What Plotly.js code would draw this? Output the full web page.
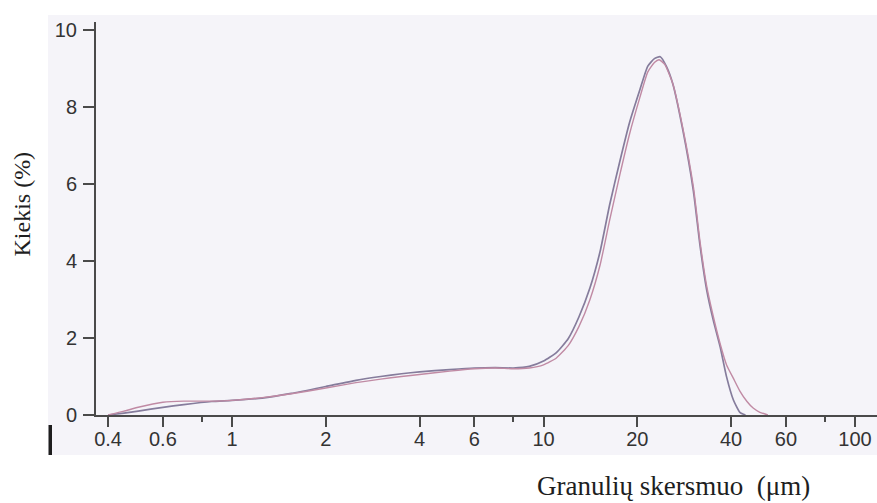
<!DOCTYPE html>
<html>
<head>
<meta charset="utf-8">
<script src="https://cdn.plot.ly/plotly-3.0.1.min.js"></script>
<style>html,body{margin:0;padding:0;background:#fff;}#chart{width:877px;height:503px;}</style>
</head>
<body>
<div id="chart"></div>
<script>
// Particle size (µm) and amount (%) — two measurement curves
const sizeA = [0.4, 0.45, 0.5, 0.6, 0.7, 0.86, 1.0, 1.25, 1.55, 2.0, 2.5, 3.0, 3.5, 4.0, 5.0, 6.0, 7.0, 8.0, 9.0, 10.0, 11.0, 12.0, 13.0, 14.1, 15.2, 16.3, 17.6, 18.9, 20.4, 21.6, 22.7, 23.7, 24.8, 26.0, 28.0, 30.3, 31.8, 33.4, 35.1, 36.9, 38.7, 40.7, 42.7, 44.5];
const valA  = [0, 0.05, 0.1, 0.2, 0.27, 0.35, 0.38, 0.44, 0.56, 0.74, 0.9, 1.0, 1.07, 1.12, 1.18, 1.22, 1.23, 1.22, 1.26, 1.4, 1.62, 1.98, 2.55, 3.3, 4.25, 5.45, 6.6, 7.6, 8.45, 9.05, 9.25, 9.3, 9.05, 8.6, 7.4, 5.8, 4.4, 3.25, 2.45, 1.77, 0.99, 0.39, 0.07, 0];

const sizeB = [0.4, 0.45, 0.5, 0.6, 0.7, 0.86, 1.0, 1.25, 1.55, 2.0, 2.5, 3.0, 3.5, 4.0, 5.0, 6.0, 7.0, 8.0, 9.0, 10.0, 11.0, 12.0, 13.0, 14.1, 15.2, 16.3, 17.6, 18.9, 20.4, 21.6, 22.7, 23.5, 24.5, 26.0, 28.0, 30.3, 31.8, 33.4, 35.1, 36.9, 38.7, 40.7, 42.7, 45.0, 47.1, 49.5, 52.5];
const valB  = [0, 0.1, 0.2, 0.33, 0.36, 0.36, 0.38, 0.45, 0.55, 0.7, 0.84, 0.93, 1.0, 1.05, 1.14, 1.2, 1.22, 1.2, 1.22, 1.3, 1.48, 1.8, 2.3, 3.0, 3.9, 5.05, 6.25, 7.3, 8.25, 8.9, 9.15, 9.22, 9.1, 8.6, 7.45, 5.9, 4.5, 3.35, 2.55, 1.85, 1.3, 0.95, 0.62, 0.35, 0.18, 0.07, 0];

const xTickVals = [0.4, 0.6, 1, 2, 4, 6, 10, 20, 40, 60, 100];
const xTickText = ['0.4', '0.6', '1', '2', '4', '6', '10', '20', '40', '60', '100'];
const xMinorVals = [0.8, 8, 80];
const yTickVals = [0, 2, 4, 6, 8, 10];
const yTickText = ['0', '2', '4', '6', '8', '10'];

const xTitle = 'Granulių skersmuo\u00a0\u00a0(μm)';
const yTitle = 'Kiekis (%)';

const axisColor = '#4a4a4a';
const tickFont = {family: 'Liberation Sans, Arial, sans-serif', size: 20, color: '#333'};
const titleFont = {family: 'Liberation Serif, Times New Roman, serif', size: 27, color: '#1e1e1e'};

const traces = [
  {x: sizeA, y: valA, type: 'scatter', mode: 'lines', name: 'A',
   line: {color: '#857c9c', width: 1.7, shape: 'spline', smoothing: 0.5}, hoverinfo: 'x+y'},
  {x: sizeB, y: valB, type: 'scatter', mode: 'lines', name: 'B',
   line: {color: '#c08aa4', width: 1.4, shape: 'spline', smoothing: 0.5}, hoverinfo: 'x+y'}
];

const layout = {
  width: 877, height: 503,
  margin: {l: 96, r: 0, t: 22, b: 88, pad: 0},
  paper_bgcolor: '#ffffff',
  plot_bgcolor: 'rgba(0,0,0,0)',
  showlegend: false,
  xaxis: {
    type: 'log', range: [-0.4366, 2.0706],
    showline: true, linecolor: axisColor, linewidth: 2,
    showgrid: false, zeroline: false,
    ticks: 'outside', ticklen: 10, tickwidth: 2, tickcolor: axisColor,
    tickmode: 'array', tickvals: xTickVals, ticktext: xTickText,
    tickfont: tickFont, ticklabelstandoff: -5,
    minor: {tickmode: 'array', tickvals: xMinorVals, ticks: 'outside', ticklen: 5, tickwidth: 2, tickcolor: axisColor, showgrid: false}
  },
  yaxis: {
    range: [0, 10.2],
    showline: true, linecolor: axisColor, linewidth: 2,
    showgrid: false, zeroline: false,
    ticks: 'outside', ticklen: 11, tickwidth: 2, tickcolor: axisColor,
    tickmode: 'array', tickvals: yTickVals, ticktext: yTickText,
    tickfont: tickFont, ticklabelstandoff: 2
  },
  shapes: [
    {type: 'rect', xref: 'paper', yref: 'paper', x0: -0.0615, x1: 1.01, y0: -0.1018, y1: 1.0178,
     fillcolor: '#f5f4f9', line: {width: 0}, layer: 'below'},
    {type: 'rect', xref: 'paper', yref: 'paper', x0: -0.0608, x1: -0.0563, y0: -0.1018, y1: -0.0254,
     fillcolor: '#1e1e1e', line: {width: 0}, layer: 'above'}
  ],
  annotations: [
    {text: xTitle, xref: 'paper', yref: 'paper', x: 0.739, y: -0.1807, xanchor: 'center', yanchor: 'middle',
     showarrow: false, font: titleFont},
    {text: yTitle, xref: 'paper', yref: 'paper', x: -0.0948, y: 0.538, xanchor: 'center', yanchor: 'middle',
     textangle: -90, showarrow: false, font: {family: titleFont.family, size: 24, color: '#1e1e1e'}}
  ]
};

Plotly.newPlot('chart', traces, layout, {displayModeBar: false, staticPlot: true});
</script>
</body>
</html>
